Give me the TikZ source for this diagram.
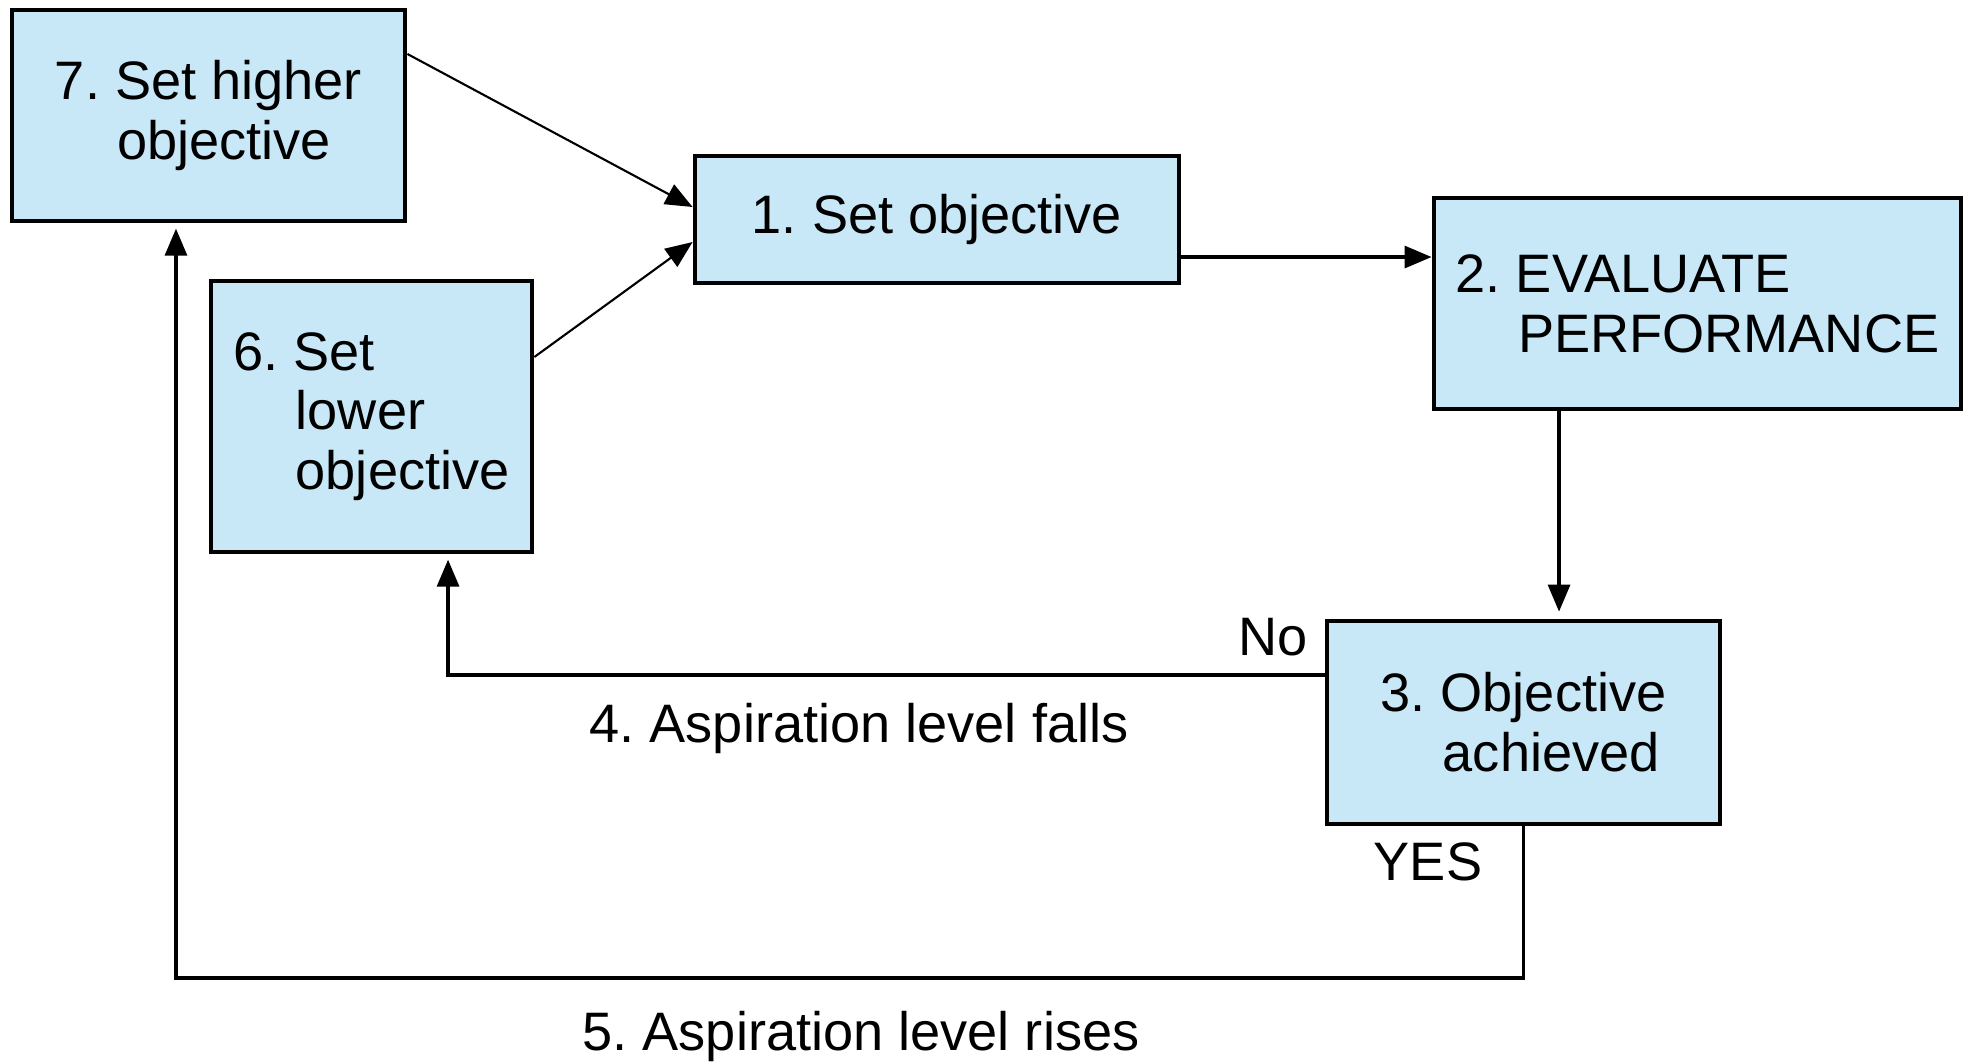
\documentclass[tikz,border=0pt]{standalone}
\usepackage{fontspec}
\setmainfont{Liberation Sans}
\usetikzlibrary{arrows.meta}
\definecolor{box-blue}{RGB}{200, 232, 248}
\newcommand{\ind}{\hspace*{1.15em}}
\frenchspacing

\begin{document}
\begin{tikzpicture}[x=0.01cm,y=-0.01cm,
	box/.style={draw, line width=1.3pt, fill=box-blue, inner sep=0pt, align=left, font=\fontsize{15.4}{17}\selectfont},
	conn/.style={line width=0.9pt, -{Triangle[length=0.27cm,width=0.22cm]}},
	thinconn/.style={conn, line width=0.6pt},
	lbl/.style={inner sep=0pt, font=\fontsize{15.4}{17}\selectfont}]
\useasboundingbox (0,0) rectangle (1967,1063);

\node [box, minimum width=3.93cm, minimum height=2.11cm] (b7) at (208.5,115.5) {7. Set higher\\\ind objective};
\node [box, minimum width=4.84cm, minimum height=1.27cm] (b1) at (937,219.5) {1. Set objective};
\node [box, minimum width=5.27cm, minimum height=2.11cm] (b2) at (1697.5,303.5) {2. EVALUATE\\\ind PERFORMANCE};
\node [box, minimum width=3.21cm, minimum height=2.71cm] (b6) at (371.5,416.5) {6. Set\\\ind lower\\\ind objective};
\node [box, minimum width=3.93cm, minimum height=2.03cm] (b3) at (1523.5,722.5) {3. Objective\\\ind achieved};

\node [lbl] (no) at (1273,637) {No};
\node [lbl] (falls) at (859,728) {4. Aspiration level falls};
\node [lbl] (yes) at (1428,862) {YES};
\node [lbl] (rises) at (861,1036) {5. Aspiration level rises};

\coordinate (dn) at ([xshift=0.355cm]b3.north);
\coordinate (ybot) at (0,978);

\draw [thinconn] ([yshift=0.615cm]b7.east) -- ([yshift=0.125cm]b1.west);
\draw [thinconn] ([yshift=0.595cm]b6.east) -- ([yshift=-0.225cm]b1.west);
\draw [conn] ([yshift=-0.375cm]b1.east) -- ([yshift=-0.375cm]b1.east -| b2.west);
\draw [conn, shorten >=2pt] (dn |- b2.south) -- (dn);
\draw [conn, shorten >=1.5pt] ([yshift=0.475cm]b3.west) -| ([xshift=0.765cm]b6.south);
\draw [conn, shorten >=1.5pt] (b3.south) -- (b3.south |- ybot) -| ([xshift=-0.325cm]b7.south);
\end{tikzpicture}
\end{document}
